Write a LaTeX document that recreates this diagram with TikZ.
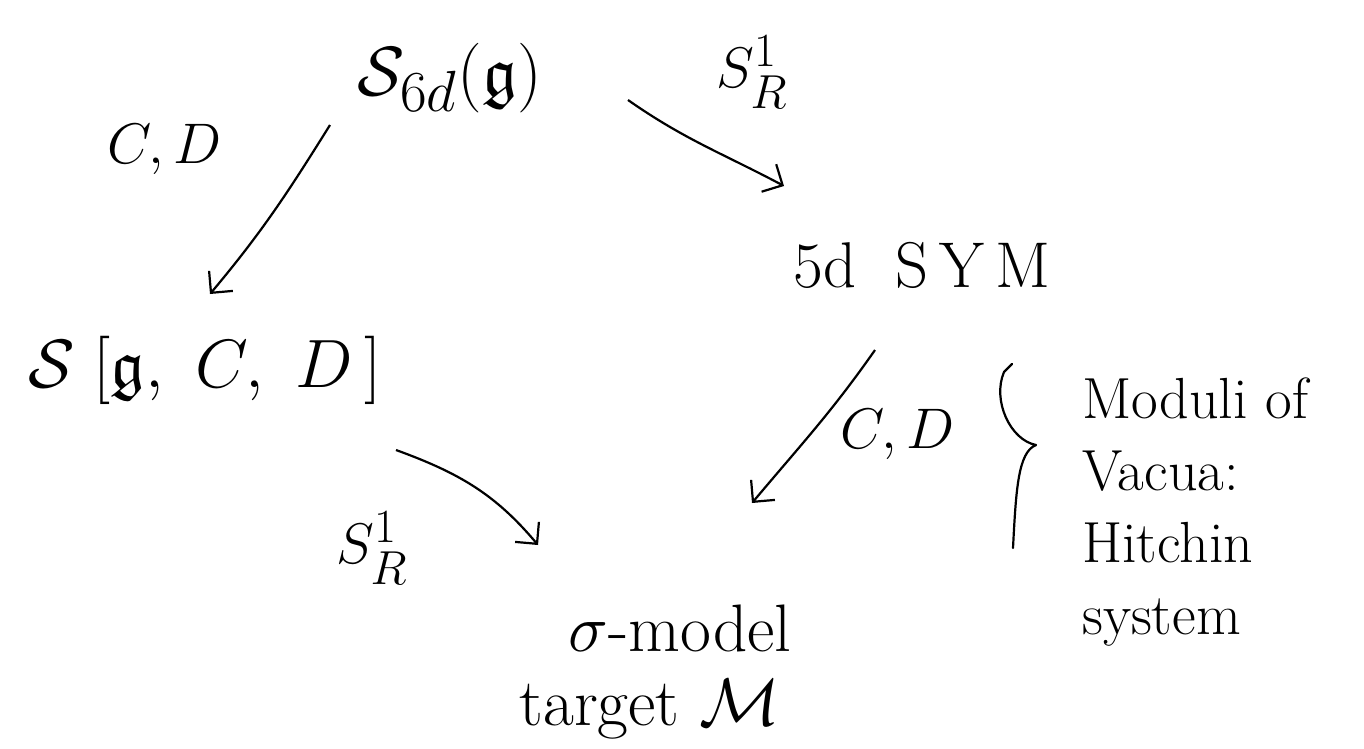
\documentclass[tikz,border=0pt]{standalone}
\usepackage{graphicx}
\usepackage{amssymb}
\usetikzlibrary{arrows.meta}
% large handwritten-size text, built from \Huge and scaled up
\newcommand{\hugeMath}[2]{\scalebox{#1}{\Huge #2}}
\tikzset{
  node/.style={inner sep=0pt},
  side/.style={inner sep=0pt, font=\fontsize{58}{72}\selectfont},
  arr/.style={line width=2.2pt, -{Straight Barb[angle=90:22pt, line width=2.2pt]}},
  stroke/.style={line width=2.2pt, line cap=round, line join=round}
}
\begin{document}
\begin{tikzpicture}[x=1pt, y=-1pt]
  \useasboundingbox[fill=white] (0,0) rectangle (1364,748);

  % objects of the diagram
  \node[node] (top)   at (450,78)  {\hugeMath{2.8}{$\mathcal{S}_{6d}(\mathfrak{g})$}};
  \node[node] (sym)   at (922,265) {\hugeMath{2.6}{5d\ \ S\,Y\,M}};
  \node[node] (left)  at (205,370) {\hugeMath{2.75}{$\mathcal{S}\;[\mathfrak{g},\ C,\ D\,]$}};
  \node[node] (sigma) at (680,628) {\hugeMath{2.7}{$\sigma$-model}};
  \node[node, anchor=north] (target) at (650,679) {\hugeMath{2.7}{target $\mathcal{M}$}};

  % arrow labels
  \node[node] (cdA) at (165,150) {\hugeMath{2.3}{$C,D$}};
  \node[node] (srA) at (752,72)  {\hugeMath{2.3}{$S^1_R$}};
  \node[node] (cdB) at (898,435) {\hugeMath{2.3}{$C,D$}};
  \node[node] (srB) at (372,548) {\hugeMath{2.3}{$S^1_R$}};

  % arrow end points
  \coordinate (a1s) at (330,125); \coordinate (a1e) at (210,294);
  \coordinate (a2s) at (628,100); \coordinate (a2e) at (784,186);
  \coordinate (a3s) at (875,350); \coordinate (a3e) at (752,503);
  \coordinate (a4s) at (396,450); \coordinate (a4e) at (538,545);

  \draw[arr] (a1s) to[out=-122, in=50] (a1e);
  \draw[arr] (a2s) to[out=-35, in=152] (a2e);
  \draw[arr] (a3s) to[out=-125, in=50] (a3e);
  \draw[arr] (a4s) to[out=-20, in=130] (a4e);

  % brace and its note
  \coordinate (tip) at (1036,445);
  \draw[stroke] (1013,548) .. controls (1016,490) and (1018,452) .. (tip)
                .. controls (1010,440) and (992,400) .. (1004,372) -- (1012,364);
  \node[side, align=left, anchor=west] (note) at (1082,512)
        {Moduli of\\Vacua:\\Hitchin\\system};
\end{tikzpicture}
\end{document}
